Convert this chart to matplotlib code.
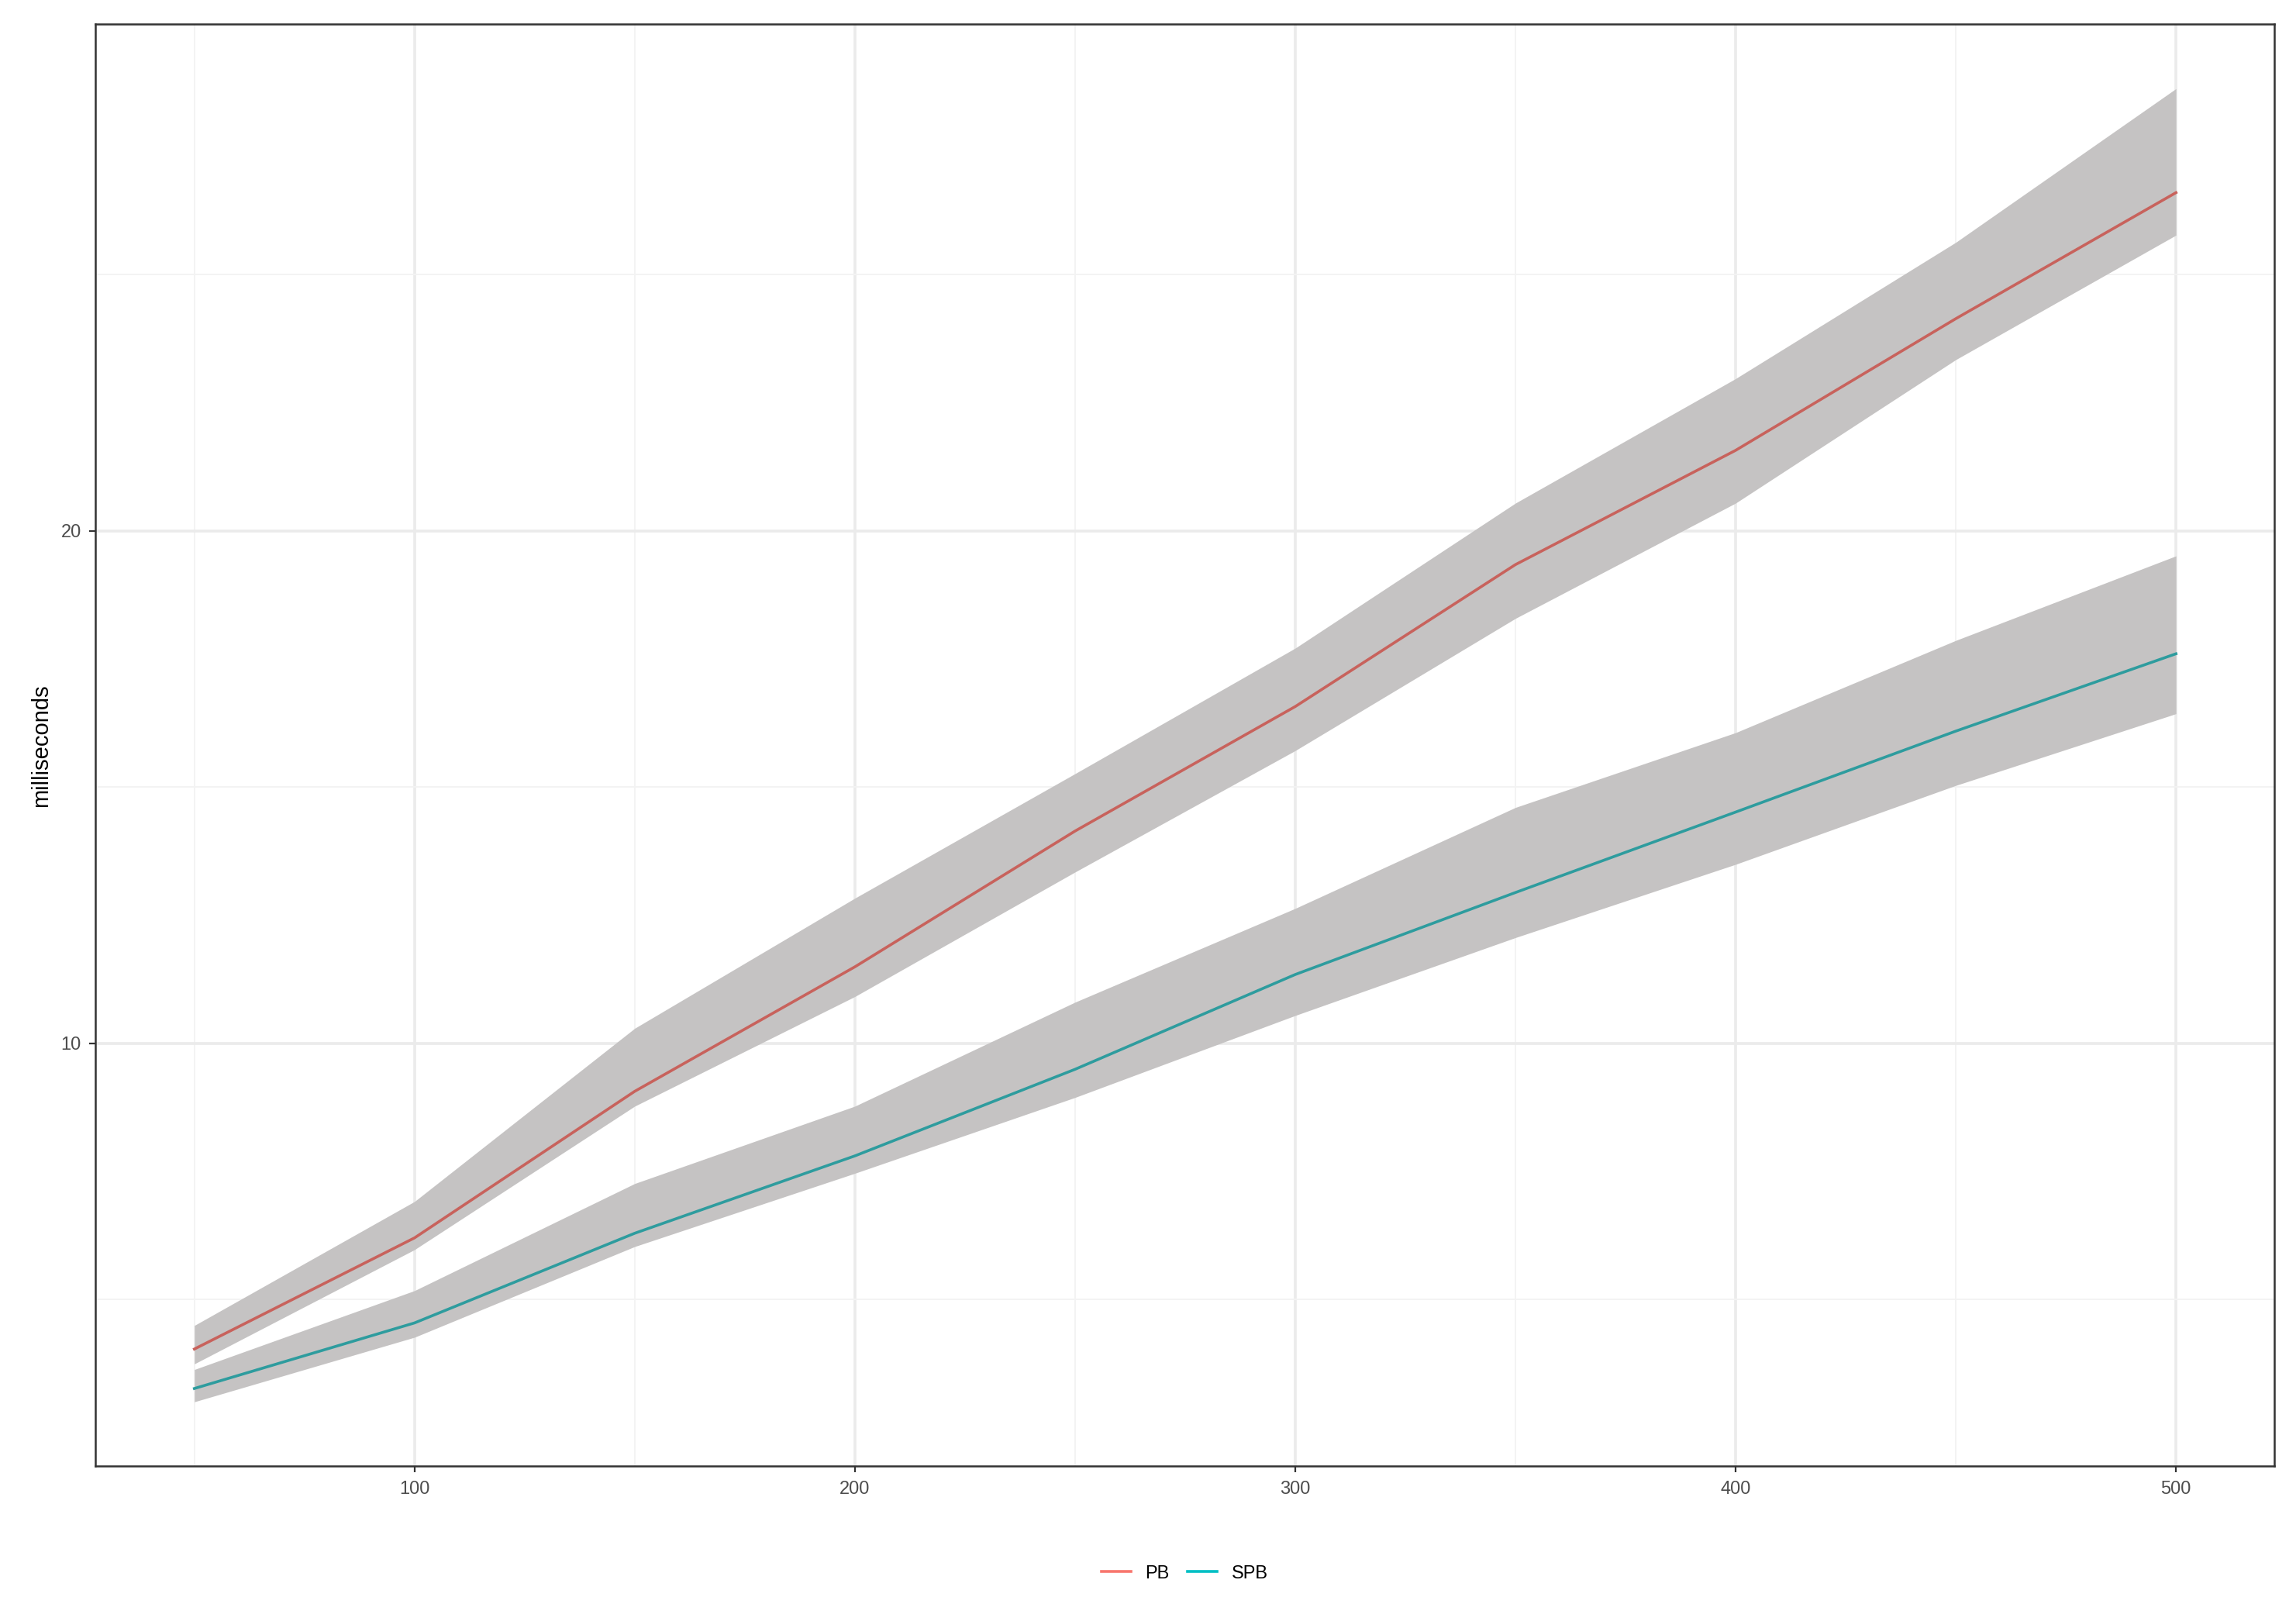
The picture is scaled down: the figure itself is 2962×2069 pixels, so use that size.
import numpy as np
import matplotlib; matplotlib.use("Agg"); import matplotlib.pyplot as plt
from matplotlib.lines import Line2D

plt.rcParams['font.family'] = ['Liberation Sans', 'DejaVu Sans']

n = [50, 100, 150, 200, 250, 300, 350, 400, 450, 500]
pb_mid = [4.03, 6.2, 9.06, 11.49, 14.14, 16.57, 19.34, 21.57, 24.14, 26.6]
pb_hi = [4.49, 6.91, 10.29, 12.83, 15.26, 17.71, 20.54, 22.97, 25.63, 28.63]
pb_lo = [3.74, 5.97, 8.77, 10.91, 13.34, 15.71, 18.29, 20.54, 23.34, 25.77]
spb_mid = [3.26, 4.54, 6.29, 7.8, 9.49, 11.34, 12.94, 14.51, 16.09, 17.6]
spb_hi = [3.63, 5.17, 7.26, 8.77, 10.8, 12.63, 14.6, 16.06, 17.86, 19.51]
spb_lo = [3.0, 4.26, 6.03, 7.46, 8.94, 10.54, 12.06, 13.49, 15.03, 16.43]

fig = plt.figure(figsize=(14.81, 10.345), dpi=200)
ax = fig.add_axes([0.0415, 0.0858, 0.949, 0.8992])

ax.set_xticks([100, 200, 300, 400, 500])
ax.set_xticks([50, 150, 250, 350, 450], minor=True)
ax.set_yticks([10, 20])
ax.set_yticks([5, 15, 25], minor=True)
ax.grid(which='major', color='#ebebeb', lw=1.3)
ax.grid(which='minor', color='#f3f3f3', lw=0.7)
ax.set_axisbelow(True)

ax.fill_between(n, pb_lo, pb_hi, color='#c5c3c3', lw=0, zorder=2)
ax.fill_between(n, spb_lo, spb_hi, color='#c5c3c3', lw=0, zorder=2)
ax.plot(n, pb_mid, color='#c8625c', lw=1.3, zorder=3)
ax.plot(n, spb_mid, color='#2e9c9e', lw=1.3, zorder=3)

ax.set_xlim(27.5, 522.3)
ax.set_ylim(1.74, 29.89)
ax.set_ylabel('milliseconds', fontsize=10.5)
ax.tick_params(which='major', labelsize=8.5, color='#333333', length=3, labelcolor='#4d4d4d')
ax.tick_params(which='minor', length=0)
for s in ax.spines.values():
    s.set_color('#333333'); s.set_linewidth(0.9)

handles = [Line2D([], [], color='#F8766D', lw=1.3), Line2D([], [], color='#00BFC4', lw=1.3)]
fig.legend(handles, ['PB', 'SPB'], loc='center', bbox_to_anchor=(0.516, 0.019), ncol=2,
           frameon=False, fontsize=8.5, handlelength=1.6, columnspacing=1.0)

fig.savefig('out.png', dpi=200)
